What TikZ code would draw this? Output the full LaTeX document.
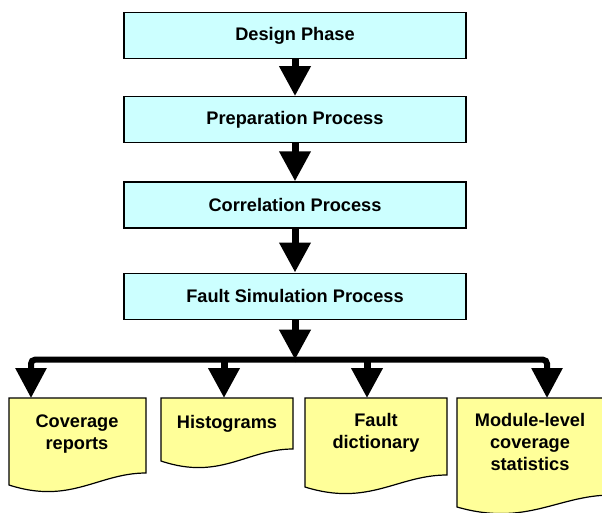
\documentclass[tikz,border=0pt]{standalone}
\usepackage{fontspec}
\setmainfont{Liberation Sans}
\usetikzlibrary{positioning,arrows.meta,calc}

\definecolor{boxcyan}{HTML}{CCFFFF}
\definecolor{docyellow}{HTML}{FFFF99}

\tikzset{
  stage/.style={draw, line width=1.2pt, fill=boxcyan, minimum width=342pt, minimum height=46pt, inner sep=0pt, font=\bfseries\fontsize{18.2}{21}\selectfont},
  flow/.style={line width=7pt, -{Triangle[width=30pt,length=30pt]}},
  bus/.style={line width=6pt, rounded corners=4pt, -{Triangle[width=30pt,length=30pt]}},
  doc/.style={draw, line width=1.2pt, fill=docyellow},
  doctext/.style={align=center, inner sep=0pt, anchor=north, font=\bfseries\fontsize{18.2}{22}\selectfont}
}

% document outline: left x, right x, top y, bottom y at the left edge
\newcommand{\docshape}[4]{%
  \draw[doc] (#1,#3) -- (#2,#3) -- ({#2},{#4-12})
    .. controls ({#2-0.35*(#2-#1)},{#4-12}) and ({#1+0.45*(#2-#1)},{#4+20}) .. (#1,#4) -- cycle;
}

\begin{document}
\begin{tikzpicture}[x=1pt, y=-1pt]
\clip (0,0) rectangle (602,512);

% process chain
\node[stage] (design) at (295,35.5) {Design Phase};
\node[stage, below=37pt of design] (prep) {Preparation Process};
\node[stage, below=38pt of prep] (corr) {Correlation Process};
\node[stage, below=44pt of corr] (fsim) {Fault Simulation Process};

\foreach \a/\b in {design/prep, prep/corr, corr/fsim}
  \draw[flow] (\a) -- (\b);

% output documents
\docshape{9}{146}{398}{485}
\docshape{161}{293}{398}{461}
\docshape{305}{447}{398}{487}
\docshape{457}{612}{398}{507}

\node[doctext] (cov) at (77,415) {Coverage\\reports};
\node[doctext] (hist) at (227,415) {Histograms};
\node[doctext] (dict) at (376,413) {Fault\\dictionary};
\node[doctext] (mod) at (530,413) {Module-level\\coverage\\statistics};

\coordinate (covtop) at (31,398);
\coordinate (histtop) at (224,398);
\coordinate (dicttop) at (367,398);
\coordinate (modtop) at (547,398);

% distribution bus
\path (fsim.south) ++(0,40) coordinate (hub);
\draw[flow] (fsim) -- (hub);
\draw[bus] (hub) -| (covtop);
\draw[bus] (hub) -| (modtop);
\draw[flow] (hub -| histtop) -- (histtop);
\draw[flow] (hub -| dicttop) -- (dicttop);
\end{tikzpicture}
\end{document}
